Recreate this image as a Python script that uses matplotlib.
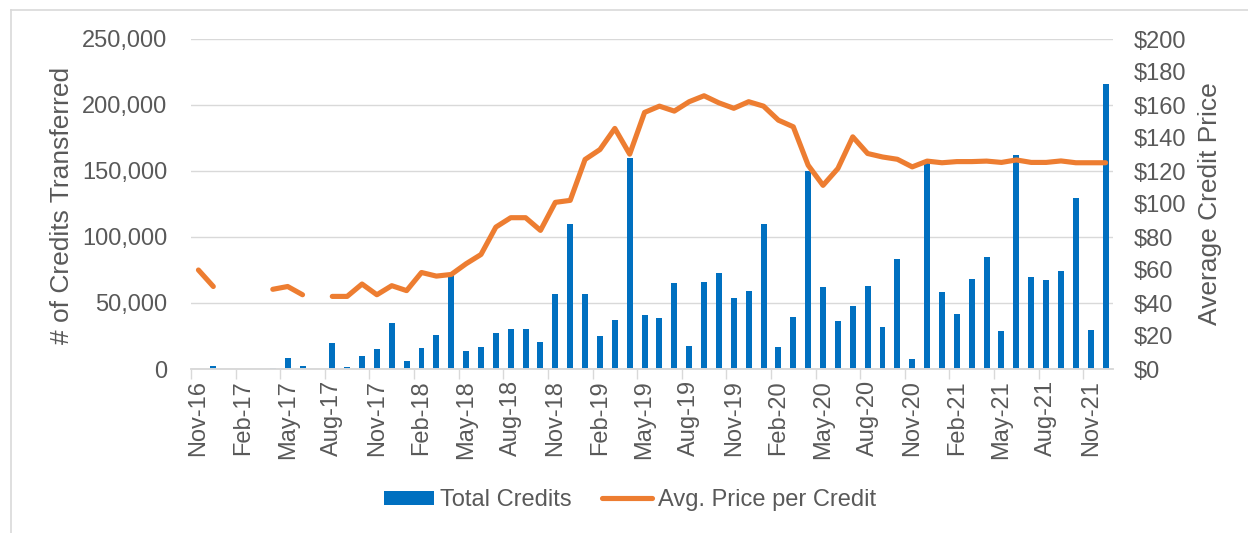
import numpy as np
import pandas as pd
import matplotlib
matplotlib.use("Agg")
import matplotlib.pyplot as plt
from matplotlib.lines import Line2D

plt.rcParams['font.family'] = ['Liberation Sans', 'DejaVu Sans']

# monthly data, Nov-16 .. Dec-21
months = pd.date_range("2016-11-01", "2021-12-01", freq="MS")
tick_labels = ["Nov-16", "Feb-17", "May-17", "Aug-17", "Nov-17", "Feb-18", "May-18",
               "Aug-18", "Nov-18", "Feb-19", "May-19", "Aug-19", "Nov-19", "Feb-20",
               "May-20", "Aug-20", "Nov-20", "Feb-21", "May-21", "Aug-21", "Nov-21"]

total_credits = [0, 2000, 0, 0, 0, 1000, 8000, 2000, 0, 20000, 1500, 10000,
                 15000, 34500, 6000, 16000, 25500, 71000, 13500, 16500, 27000, 30000,
                 30000, 20500, 57000, 110000, 57000, 25000, 37000, 160000, 41000, 38500,
                 65000, 17500, 66000, 72500, 53500, 59000, 109500, 17000, 39500, 150000,
                 62500, 36000, 48000, 63000, 31500, 83500, 7500, 156000, 58000, 42000,
                 68000, 85000, 29000, 162500, 70000, 67500, 74500, 129500, 29500, 216000]

avg_price = [60, 50, np.nan, np.nan, np.nan, 48.3, 50, 45, np.nan, 44, 44, 51.5,
             45, 50.5, 47.5, 58.5, 56.3, 57.3, 63.8, 69.4, 86, 91.7,
             91.7, 84, 101, 102.2, 127, 133, 145.8, 130.2, 155.5, 159.3,
             156.3, 162, 165.6, 161.3, 158, 162, 159.3, 150.8, 146.8, 123.5,
             111.3, 121.5, 140.7, 130.6, 128.5, 127.1, 122.5, 126, 125, 125.7,
             125.7, 126, 125.2, 126.7, 125.2, 125.2, 126.1, 125, 125, 125]

blue = "#0070C0"
orange = "#ED7D31"
txt = "#595959"
grid = "#D9D9D9"
fs = 17

fig = plt.figure(figsize=(12.48, 5.33), dpi=100)
ax = fig.add_axes([191/1248, 1 - 369/533, 922/1248, 330/533])
ax2 = ax.twinx()

x = np.arange(len(months))
bars = ax.bar(x, total_credits, width=0.4, color=blue, label="Total Credits", zorder=2)
line, = ax2.plot(x, avg_price, color=orange, lw=3.7, solid_capstyle="round",
                 solid_joinstyle="round", label="Avg. Price per Credit")

ax.set_xlim(-0.5, len(months) - 0.5)
ax.set_ylim(0, 250000)
ax2.set_ylim(0, 200)
ax.set_yticks(np.arange(0, 250001, 50000))
ax.set_yticklabels([f"{v:,}" for v in range(0, 250001, 50000)])
ax2.set_yticks(np.arange(0, 201, 20))
ax2.set_yticklabels([f"${v}" for v in range(0, 201, 20)])

ax.set_xticks(x[::3])
ax.set_xticklabels(tick_labels, rotation=90)
ax.set_xticks(np.arange(-0.5, len(months), 3), minor=True)
ax.tick_params(axis="x", which="major", length=0, pad=8, labelsize=fs, labelcolor=txt)
ax.tick_params(axis="x", which="minor", length=7, width=1, color=grid)
ax.tick_params(axis="y", length=0, pad=17, labelsize=fs, labelcolor=txt)
ax2.tick_params(axis="y", length=0, pad=15, labelsize=fs, labelcolor=txt)

ax.set_axisbelow(True)
ax.grid(axis="y", color=grid, lw=1)
for a in (ax, ax2):
    for s in ["top", "left", "right"]:
        a.spines[s].set_visible(False)
    a.spines["bottom"].set_color(grid)
    a.spines["bottom"].set_linewidth(1.2)

fig.text(62/1248, 1 - 205/533, "# of Credits Transferred", rotation=90,
         ha="center", va="center", fontsize=19, color=txt)
fig.text(1210/1248, 1 - 204/533, "Average Credit Price", rotation=90,
         ha="center", va="center", fontsize=19, color=txt)

leg = fig.legend(handles=[bars, line], loc="center", bbox_to_anchor=(630/1248, 1 - 500/533),
                 ncol=2, frameon=False, fontsize=fs, handlelength=2.1, handleheight=0.55,
                 handletextpad=0.25, columnspacing=1.3)
for t in leg.get_texts():
    t.set_color(txt)

# outer chart border
fig.add_artist(Line2D([11/1248, 11/1248], [0, 1 - 10/533], transform=fig.transFigure,
                      color=grid, lw=1.2))
fig.add_artist(Line2D([11/1248, 1], [1 - 10/533, 1 - 10/533], transform=fig.transFigure,
                      color=grid, lw=1.2))

fig.savefig("out.png", dpi=100)
plt.close()
